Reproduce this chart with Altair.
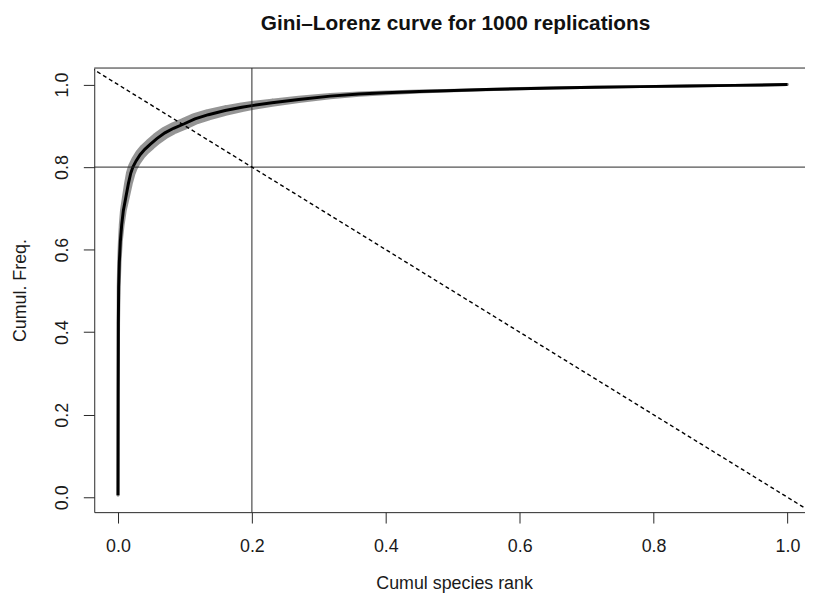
import altair as alt
import pandas as pd

# Gini-Lorenz curve (median over replications)
rank = [0.0, 0.0002, 0.0005, 0.001, 0.002, 0.0035, 0.0055, 0.008, 0.0115, 0.0155,
        0.019, 0.0222, 0.027, 0.033, 0.040, 0.048, 0.058, 0.070, 0.083, 0.099,
        0.115, 0.135, 0.16, 0.185, 0.2, 0.23, 0.27, 0.317, 0.36, 0.4,
        0.45, 0.49, 0.55, 0.6, 0.65, 0.712, 0.78, 0.85, 0.92, 1.0]
cum_freq = [0.005, 0.25, 0.42, 0.51, 0.57, 0.62, 0.66, 0.695, 0.725, 0.76,
            0.785, 0.80, 0.815, 0.83, 0.843, 0.855, 0.869, 0.883, 0.894, 0.905,
            0.917, 0.927, 0.937, 0.945, 0.949, 0.956, 0.964, 0.972, 0.977, 0.980,
            0.983, 0.985, 0.988, 0.990, 0.9918, 0.9935, 0.995, 0.9965, 0.998, 1.0]
# spread of the 1000 replications around the curve
spread = [0.0, 0.0, 0.0005, 0.001, 0.0015, 0.002, 0.003, 0.004, 0.005, 0.006,
          0.007, 0.0075, 0.008, 0.0085, 0.009, 0.0092, 0.0094, 0.0095, 0.0095, 0.0095,
          0.0093, 0.009, 0.008, 0.007, 0.0065, 0.0055, 0.0045, 0.0035, 0.0025, 0.0018,
          0.001, 0.0005, 0.0003, 0.0002, 0.0001, 0.0, 0.0, 0.0, 0.0, 0.0]

ref_freq = [0.8]
ref_rank = [0.2]
# equality line freq = 1 - rank, across the plotting region
diag_rank = [-0.04, 1.04]
diag_freq = [1.04, -0.04]

x_ticks = [0.0, 0.2, 0.4, 0.6, 0.8, 1.0]
y_ticks = [0.0, 0.2, 0.4, 0.6, 0.8, 1.0]

W, H = 717, 448
FONT = "Liberation Sans"
LINE = "#262626"

curve = pd.DataFrame({"rank": rank, "freq": cum_freq, "spread": spread,
                      "idx": list(range(len(rank)))})
href = pd.DataFrame({"freq": ref_freq})
vref = pd.DataFrame({"rank": ref_rank})
diag = pd.DataFrame({"rank": diag_rank, "freq": diag_freq})
top = pd.DataFrame({"k": [0]})

xscale = alt.Scale(domain=[-0.0355, 1.0262], nice=False, zero=False)
yscale = alt.Scale(domain=[-0.036, 1.040], nice=False, zero=False)

xaxis = alt.Axis(values=x_ticks, format=".1f", grid=False, tickSize=11,
                 tickColor=LINE, domainColor=LINE, tickWidth=1, domainWidth=1,
                 labelFont=FONT, labelFontSize=18, labelColor="#1a1a1a",
                 labelPadding=24, labelBaseline="middle", labelFlush=False,
                 labelOverlap=False, title="Cumul species rank", titleFont=FONT,
                 titleFontSize=18, titleFontWeight="normal", titleColor="#1a1a1a",
                 titleX=363, titleY=72, titleAlign="center", titleBaseline="middle")
yaxis = alt.Axis(values=y_ticks, format=".1f", grid=False, tickSize=11,
                 tickColor=LINE, domainColor=LINE, tickWidth=1, domainWidth=1,
                 labelFont=FONT, labelFontSize=18, labelColor="#1a1a1a",
                 labelPadding=21, labelAngle=270, labelAlign="center",
                 labelBaseline="middle", labelFlush=False, labelOverlap=False,
                 title="Cumul. Freq.", titleFont=FONT, titleFontSize=18,
                 titleFontWeight="normal", titleColor="#1a1a1a", titleAngle=270,
                 titleX=-74, titleY=H / 2, titleAlign="center", titleBaseline="middle")

X = alt.X("rank:Q", scale=xscale, axis=xaxis)
Y = alt.Y("freq:Q", scale=yscale, axis=yaxis)

band = alt.Chart(curve).mark_trail(color="#8a8a8a", opacity=0.9).encode(
    x=X, y=Y,
    size=alt.Size("spread:Q", scale=alt.Scale(domain=[0, 0.01], range=[3, 12.5]), legend=None),
    order="idx:Q",
)
line = alt.Chart(curve).mark_line(color="black", strokeWidth=3).encode(
    x=X, y=Y, order="idx:Q"
)
hrule = alt.Chart(href).mark_rule(color=LINE, strokeWidth=1).encode(y=Y)
vrule = alt.Chart(vref).mark_rule(color=LINE, strokeWidth=1).encode(x=X)
dline = alt.Chart(diag).mark_line(color="black", strokeWidth=1.4,
                                  strokeDash=[4, 3], clip=True).encode(x=X, y=Y)
topline = alt.Chart(top).mark_rule(color=LINE, strokeWidth=1).encode(
    x=alt.value(0), x2=alt.value(W), y=alt.value(0)
)

chart = alt.layer(band, line, hrule, vrule, dline, topline).properties(
    width=W, height=H,
    autosize=alt.AutoSizeParams(type="none"),
    padding={"left": 87, "top": 58, "right": 0, "bottom": 80},
    title=alt.TitleParams("Gini\u2013Lorenz curve for 1000 replications",
                          font=FONT, fontSize=21, fontWeight="bold",
                          color="#111111", anchor="middle", dx=6,
                          baseline="alphabetic", offset=17),
).configure_view(stroke=None)

chart.save("out.html", embed_options={"renderer": "svg", "actions": False})
